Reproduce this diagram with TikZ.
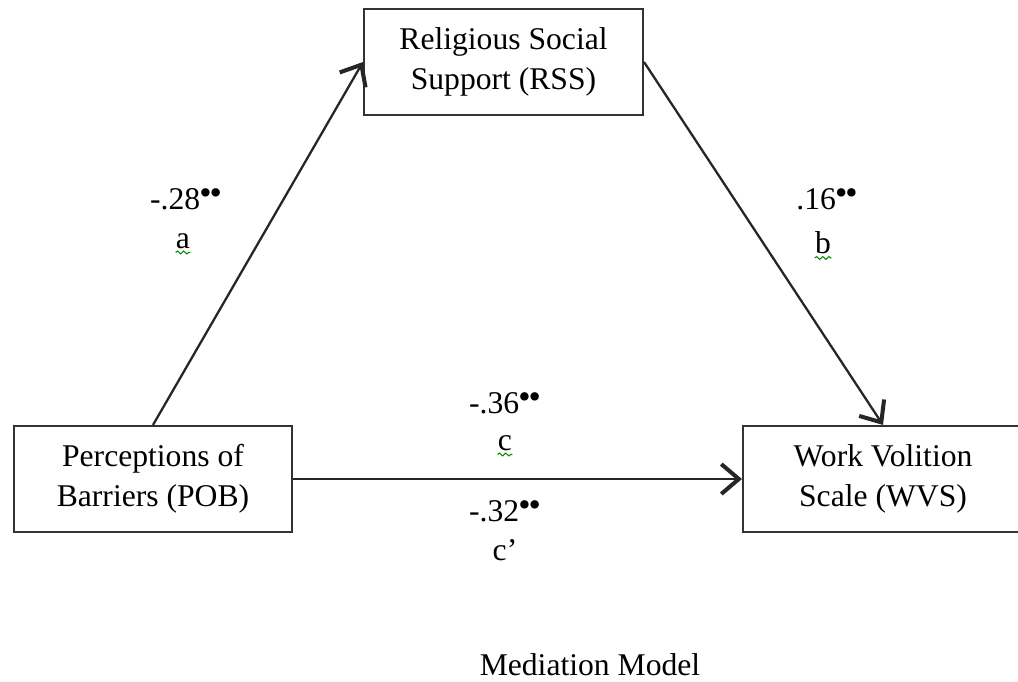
\documentclass[tikz,border=0pt]{standalone}
\usepackage{fontspec}
\setmainfont{Liberation Serif}
\usetikzlibrary{arrows.meta,decorations.pathmorphing}

% significance marks
\newcommand{\sigdots}{\raisebox{0.3ex}{\fontsize{20}{20}\selectfont\kern-0.5pt\textbullet\kern-1.2pt\textbullet}}

\begin{document}
\begin{tikzpicture}[x=0.02cm,y=-0.02cm,
  varbox/.style={draw=black!80, line width=1.2pt, rectangle, align=center,
    font=\fontsize{18}{23}\selectfont, inner sep=0pt},
  link/.style={draw=black!85, line width=1.3pt,
    -{Straight Barb[length=10pt,width=17pt,line width=2.3pt]}},
  lab/.style={font=\fontsize{18}{23}\selectfont, inner sep=0pt},
  squig/.style={draw=green!55!black, line width=0.6pt, decorate,
    decoration={snake, amplitude=0.8pt, segment length=3.5pt}}
]
\useasboundingbox (0,0) rectangle (1018,681);

% variables
\node[varbox, minimum width=5.58cm, minimum height=2.12cm] (rss) at (503.5,62)
  {Religious Social\\Support (RSS)};
\node[varbox, minimum width=5.56cm, minimum height=2.12cm] (pob) at (153,479)
  {Perceptions of\\Barriers (POB)};
\node[varbox, minimum width=5.6cm, minimum height=2.12cm] (wvs) at (883,479)
  {Work Volition\\Scale (WVS)};

% paths
\draw[link] (pob.north) -- (rss.west);
\draw[link] (rss.east) -- (wvs.north);
\draw[link] (pob.east) -- (wvs.west);

% coefficients
\node[lab] (ca) at (186,199) {-.28\sigdots};
\node[lab] (la) at (183,241) {a};
\node[lab] (cb) at (827,199) {.16\sigdots};
\node[lab] (lb) at (823,243) {b};
\node[lab] (cc) at (505,403) {-.36\sigdots};
\node[lab] (lc) at (505,443) {c};
\node[lab] (cd) at (505,511) {-.32\sigdots};
\node[lab] (ld) at (505,550) {c’};

% spell-check marks under the path letters
\draw[squig] ([yshift=-2pt]la.south west) -- ([yshift=-2pt]la.south east);
\draw[squig] ([yshift=-2pt]lb.south west) -- ([yshift=-2pt]lb.south east);
\draw[squig] ([yshift=-2pt]lc.south west) -- ([yshift=-2pt]lc.south east);

% caption
\node[lab] (cap) at (590,665) {Mediation Model};
\end{tikzpicture}
\end{document}
